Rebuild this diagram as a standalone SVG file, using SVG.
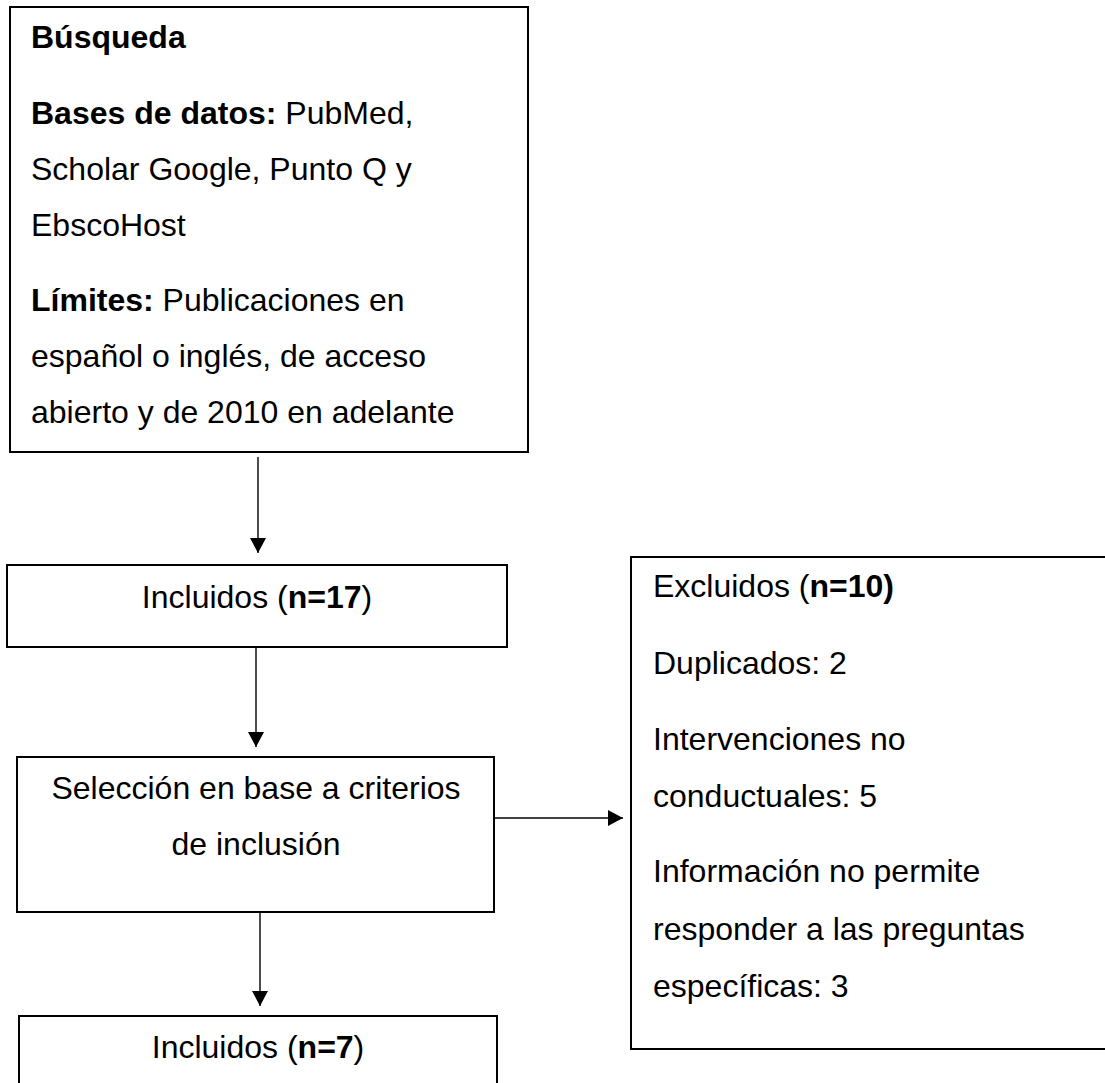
<svg xmlns="http://www.w3.org/2000/svg" width="1105" height="1083" viewBox="0 0 1105 1083">
<style>
.box{fill:#fff;stroke:#000;stroke-width:2}
.t{font-family:"Liberation Sans",Arial,sans-serif;font-size:32px;fill:#000}
.c{text-anchor:middle}
.b{font-weight:bold}
.con{stroke:#000;stroke-width:1.4;fill:none}
</style>
<defs>
<marker id="ah" markerUnits="userSpaceOnUse" markerWidth="16" markerHeight="16" refX="15" refY="8" orient="auto">
<path d="M0,0 L15,8 L0,16 z" fill="#000"/>
</marker>
</defs>
<rect width="1105" height="1083" fill="#fff"/>
<g id="connectors">
<line class="con" x1="258" y1="457" x2="258" y2="553" marker-end="url(#ah)"/>
<line class="con" x1="256" y1="647" x2="256" y2="747" marker-end="url(#ah)"/>
<line class="con" x1="260" y1="912" x2="260" y2="1006" marker-end="url(#ah)"/>
<line class="con" x1="494" y1="818" x2="623" y2="818" marker-end="url(#ah)"/>
</g>
<g id="busqueda">
<rect class="box" x="10" y="7" width="518" height="445"/>
<text class="t b" x="31" y="48">Búsqueda</text>
<text class="t" x="31" y="124"><tspan class="b">Bases de datos:</tspan> PubMed,</text>
<text class="t" x="31" y="180">Scholar Google, Punto Q y</text>
<text class="t" x="31" y="236">EbscoHost</text>
<text class="t" x="31" y="311"><tspan class="b">Límites:</tspan> Publicaciones en</text>
<text class="t" x="31" y="367">español o inglés, de acceso</text>
<text class="t" x="31" y="423">abierto y de 2010 en adelante</text>
</g>
<g id="incluidos17">
<rect class="box" x="7" y="565" width="500" height="82"/>
<text class="t c" x="257" y="608">Incluidos (<tspan class="b">n=17</tspan>)</text>
</g>
<g id="seleccion">
<rect class="box" x="17" y="757" width="477" height="155"/>
<text class="t c" x="256" y="799">Selección en base a criterios</text>
<text class="t c" x="256" y="855">de inclusión</text>
</g>
<g id="excluidos">
<rect class="box" x="631" y="557" width="480" height="492"/>
<text class="t" x="653" y="597">Excluidos (<tspan class="b">n=10)</tspan></text>
<text class="t" x="653" y="674">Duplicados: 2</text>
<text class="t" x="653" y="750">Intervenciones no</text>
<text class="t" x="653" y="807">conductuales: 5</text>
<text class="t" x="653" y="882">Información no permite</text>
<text class="t" x="653" y="940">responder a las preguntas</text>
<text class="t" x="653" y="997">específicas: 3</text>
</g>
<g id="incluidos7">
<rect class="box" x="19" y="1016" width="478" height="100"/>
<text class="t c" x="258" y="1058">Incluidos (<tspan class="b">n=7</tspan>)</text>
</g>
</svg>
